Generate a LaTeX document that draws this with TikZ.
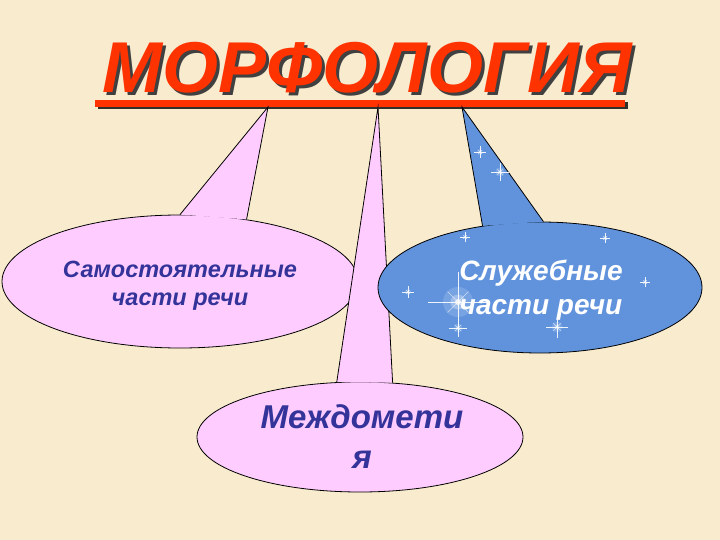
\documentclass[tikz,border=0pt]{standalone}
\usepackage{fontspec}
\setmainfont{Liberation Sans}
\usetikzlibrary{shapes.geometric,shadows}
\definecolor{bgc}{HTML}{F9ECCE}
\definecolor{titlered}{HTML}{FF3300}
\definecolor{pinkc}{HTML}{FFCCFF}
\definecolor{bluec}{HTML}{6193DD}
\definecolor{navy}{HTML}{333399}
\newcommand{\shadowtext}[1]{\rlap{\hspace{3pt}\raisebox{-3pt}{\color{black!75}#1}}#1}
\tikzset{
  bubble/.style={ellipse, draw=black, line width=0.8pt, inner sep=0pt, align=center,
    font=\bfseries\itshape},
  pointer/.style={draw=black, line width=0.8pt, line join=miter},
  sparkle/.pic={
    \fill[white, opacity=0.15] (0,0) circle (#1*0.5pt);
    \fill[white, opacity=0.3] (0,0) circle (#1*0.25pt);
    \fill[white, opacity=0.8] (0,0) circle (#1*0.1pt);
    \draw[white, line width=0.6pt, opacity=0.9] (-#1 pt,0) -- (#1 pt,0) (0,-#1 pt) -- (0,#1 pt);
    \draw[white, line width=0.4pt, opacity=0.6] (-0.35*#1 pt,-0.35*#1 pt) -- (0.35*#1 pt,0.35*#1 pt)
      (-0.35*#1 pt,0.35*#1 pt) -- (0.35*#1 pt,-0.35*#1 pt);
  }
}
\begin{document}
\begin{tikzpicture}[x=1pt,y=-1pt]
\fill[bgc] (0,0) rectangle (720,540);
\useasboundingbox (0,0) rectangle (720,540);
% title with shadow
\node[font=\fontsize{72}{80}\selectfont\bfseries\itshape, text=titlered, anchor=base, inner sep=0pt]
  (title) at (367,93) {\shadowtext{МОРФОЛОГИЯ}};
% bar
\node[fill=titlered, minimum width=530pt, minimum height=7pt, inner sep=0pt,
  drop shadow={shadow xshift=2.5pt, shadow yshift=-2.5pt, fill=black, opacity=0.8}]
  (bar) at (360,103.5) {};
\coordinate (tipA) at (268,107);
\coordinate (tipB) at (378,107);
\coordinate (tipC) at (462,107);
% left callout
\node[bubble, fill=pinkc, minimum width=356pt, minimum height=133pt, text=navy,
  font=\fontsize{23.5}{28}\selectfont\bfseries\itshape] (sam) at (180,281.5)
  {};
\node[text=navy, font=\fontsize{23.5}{28}\selectfont\bfseries\itshape, align=center, inner sep=0pt]
  (samtext) at (180,286) {Самостоятельные\\части речи};
\fill[pinkc] (sam.90) -- (tipA) -- (sam.43) -- cycle;
\draw[pointer] (sam.90) -- (tipA) -- (sam.43);
% bottom callout
\node[bubble, fill=pinkc, minimum width=326pt, minimum height=110pt] (mezh) at (360,437) {};
\node[text=navy, font=\fontsize{33}{40}\selectfont\bfseries\itshape, align=center, inner sep=0pt]
  (mezhtext) at (362,437) {Междомети\\я};
\fill[pinkc] (mezh.113.7) -- (tipB) -- (mezh.59.5) -- cycle;
\draw[pointer] (mezh.113.7) -- (tipB) -- (mezh.59.5);
% right callout
\node[bubble, fill=bluec, minimum width=324pt, minimum height=131pt] (sluzh) at (540,287.5) {};
\fill[bluec] (sluzh.133.8) -- (tipC) -- (sluzh.87.4) -- cycle;
\draw[pointer] (sluzh.133.8) -- (tipC) -- (sluzh.87.4);
% sparkles
\pic at (480,152) {sparkle=6};
\pic at (500,172) {sparkle=9};
\pic at (465,237) {sparkle=5};
\pic at (605,238) {sparkle=5};
\pic at (645,282) {sparkle=5};
\pic at (408,292) {sparkle=6};
\pic at (458,302) {sparkle=30};
\pic at (458,328) {sparkle=9};
\pic at (557,327) {sparkle=11};
\node[text=white, font=\fontsize{28}{34}\selectfont\bfseries\itshape, align=center, inner sep=0pt]
  (sluzhtext) at (541,290) {Служебные\\части речи};
\end{tikzpicture}
\end{document}
